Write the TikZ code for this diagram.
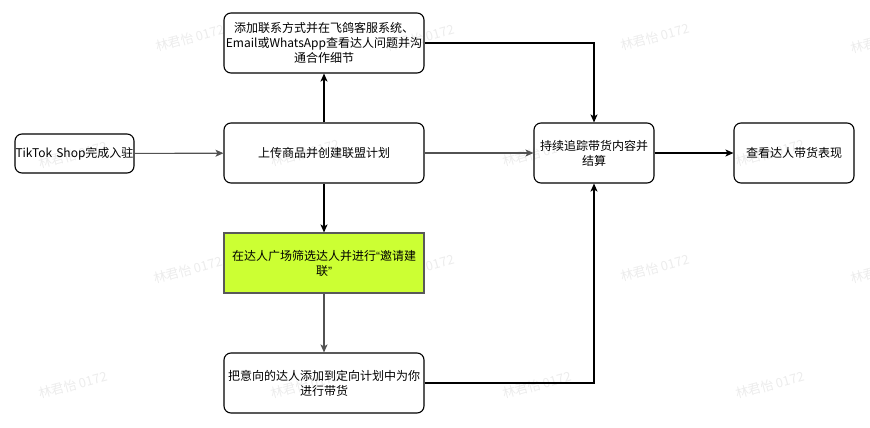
\documentclass[tikz,border=0pt]{standalone}
\usepackage{fontspec}
\setmainfont{Noto Sans CJK SC}
\newfontfamily\latinq{Liberation Sans}
\usetikzlibrary{arrows.meta}
\definecolor{lime}{RGB}{204,255,51}
\definecolor{wm}{RGB}{236,236,236}
\tikzset{
  box/.style={draw=black, line width=1.1pt, rounded corners=7pt, minimum height=60pt, text width=#1, align=center, inner sep=0pt, font=\fontsize{12}{15}\selectfont},
  box/.default=200pt,
  greenbox/.style={box, rounded corners=0pt, fill=lime, draw=black!65},
  conn/.style={line width=1.1pt, -{Stealth[length=8pt,width=7pt,inset=2pt]}},
  grayconn/.style={conn, draw=black!68},
  wmark/.style={text=wm, rotate=15, font=\fontsize{13}{13}\selectfont}
}
\begin{document}
\begin{tikzpicture}[x=1pt,y=-1pt]
\useasboundingbox (0,0) rectangle (870,428);
% watermarks
\foreach \wx/\wy [count=\i] in {190/38,420/38,655/37,885/40,73/155,305/153,537/153,770/153,188/270,420/268,655/268,885/270,73/385,305/385,537/385,770/385}
  \node[wmark] (wm\i) at (\wx,\wy) {林君怡 0172};
% nodes
\node[box=119pt, minimum width=119pt, minimum height=39pt] (a) at (74.5,153.5) {TikTok Shop完成入驻};
\node[box=200pt, minimum width=200pt] (b) at (324,153) {上传商品并创建联盟计划};
\node[box=200pt, minimum width=200pt] (c) at (324,43) {添加联系方式并在飞鸽客服系统、\\Email或WhatsApp查看达人问题并沟\\通合作细节};
\node[greenbox, text width=190pt, minimum width=200pt] (d) at (324,263) {在达人广场筛选达人并进行{\latinq “}邀请建\\联{\latinq ”}};
\node[box=200pt, minimum width=200pt] (e) at (324,383) {把意向的达人添加到定向计划中为你\\进行带货};
\node[box=120pt, minimum width=120pt] (f) at (594,153) {持续追踪带货内容并\\结算};
\node[box=120pt, minimum width=120pt] (g) at (794,153) {查看达人带货表现};
% connectors
\draw[grayconn] (a) -- (b);
\draw[grayconn] (b) -- (f);
\draw[conn] (b) -- (c);
\draw[conn] (b) -- (d);
\draw[grayconn] (d) -- (e);
\draw[conn] (c.east) -| (f.north);
\draw[conn] (e.east) -| (f.south);
\draw[conn] (f) -- (g);
\end{tikzpicture}
\end{document}
